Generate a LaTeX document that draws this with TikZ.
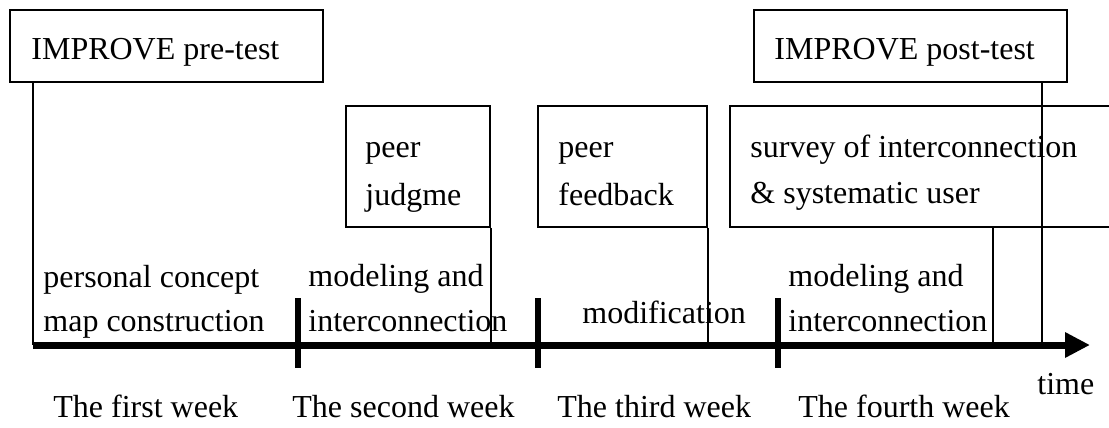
\documentclass[tikz,border=0pt]{standalone}
\usepackage{fontspec}
\setmainfont{Liberation Serif}
\usetikzlibrary{arrows.meta}

\begin{document}
\begin{tikzpicture}[x=0.5pt, y=-0.5pt,
	every node/.style={font=\fontsize{16}{19}\selectfont},
	box/.style={draw, line width=0.9pt, rectangle, inner sep=0pt, anchor=north west},
	lbl/.style={anchor=base west, inner sep=0pt},
	link/.style={line width=0.9pt}]
	\def \axisy {345}

	\useasboundingbox (0,0) rectangle (1109,428);
	\clip (0,0) rectangle (1109,428);

	% boxes above the axis
	\node[box, minimum width=156.5pt, minimum height=36pt] (pre)  at (9,9) {};
	\node[box, minimum width=156.5pt, minimum height=36pt] (post) at (753,9) {};
	\node[box, minimum width=72pt, minimum height=60.5pt]  (judg) at (345,105) {};
	\node[box, minimum width=84.5pt, minimum height=60.5pt] (feed) at (537,105) {};
	\node[box, minimum width=200pt, minimum height=60.5pt] (surv) at (729,105) {};

	\node[lbl] (pretxt)  at (31,60)   {IMPROVE pre-test};
	\node[lbl] (posttxt) at (774,60)  {IMPROVE post-test};
	\node[lbl] (judg1)   at (365,157) {peer};
	\node[lbl] (judg2)   at (365,205) {judgme};
	\node[lbl] (feed1)   at (558,157) {peer};
	\node[lbl] (feed2)   at (558,205) {feedback};
	\node[lbl] (surv1)   at (750,157) {survey of interconnection};
	\node[lbl] (surv2)   at (750,203) {\& systematic user};

	% activities on the axis
	\node[lbl] (act1a) at (43,287)  {personal concept};
	\node[lbl] (act1b) at (43,331)  {map construction};
	\node[lbl] (act2a) at (308,286) {modeling and};
	\node[lbl] (act2b) at (308,331) {interconnection};
	\node[lbl] (act3)  at (582,323) {modification};
	\node[lbl] (act4a) at (788,286) {modeling and};
	\node[lbl] (act4b) at (788,331) {interconnection};

	% axis
	\coordinate (start) at (33,\axisy);
	\coordinate (end)   at (1090,\axisy);
	\draw[line width=3.5pt, -{Triangle[length=12.5pt, width=12pt]}] (start) -- (end);
	\foreach \t in {298, 538, 778}
		\draw[line width=3pt] (\t,298) -- (\t,368);

	\node[lbl] (time) at (1037,394) {time};
	\node[lbl] (week1) at (53,417)  {The first week};
	\node[lbl] (week2) at (292,417) {The second week};
	\node[lbl] (week3) at (557,417) {The third week};
	\node[lbl] (week4) at (798,417) {The fourth week};

	% links from the boxes down to the axis
	\draw[link] (pre.south west -| start) -- (start);
	\draw[link] (judg.south east) -- (judg.south east |- start);
	\draw[link] (feed.south east) -- (feed.south east |- start);
	\draw[link] (surv.south west -| 993,0) -- (993,\axisy);
	\draw[link] (post.south west -| 1042,0) -- (1042,\axisy);
\end{tikzpicture}
\end{document}
